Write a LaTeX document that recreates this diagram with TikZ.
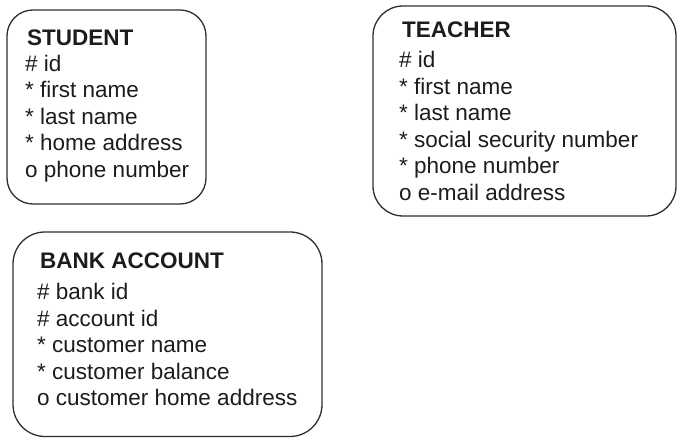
\documentclass[tikz,border=0pt]{standalone}
\usepackage{fontspec}
\setmainfont{Liberation Sans}
\definecolor{ink}{HTML}{1C1C1C}
\definecolor{rim}{HTML}{2E2E2E}
\tikzset{
  entity/.style={draw=rim,line width=1.3pt,rounded corners=#1},
  entity title/.style={anchor=base west,inner sep=0pt,text=ink,
    font=\fontsize{22.5}{26.5}\selectfont\bfseries},
  entity attrs/.style={anchor=base west,inner sep=0pt,align=left,text=ink,
    font=\fontsize{22.5}{26.5}\selectfont}
}
\begin{document}
\begin{tikzpicture}[x=1pt,y=-1pt,line cap=round,line join=round]
\useasboundingbox (0,0) rectangle (678,438);
\path
(7,10) coordinate (S1)
(206,204) coordinate (S2)
(373,6) coordinate (T1)
(676,216) coordinate (T2)
(13,232) coordinate (B1)
(322,436.5) coordinate (B2)
;
% the three entity boxes
\draw[entity=26] (S1) rectangle (S2);
\draw[entity=30] (T1) rectangle (T2);
\draw[entity=32] (B1) rectangle (B2);
% student (attribute lists sit on the baseline of their last line)
\node[entity title] (student) at (27,45.5) {STUDENT};
\node[entity attrs] (studentattrs) at (25,177.5)
  {\# id\\* first name\\* last name\\* home address\\o phone number};
% teacher
\node[entity title] (teacher) at (402,37.5) {TEACHER};
\node[entity attrs] (teacherattrs) at (399,200.5)
  {\# id\\* first name\\* last name\\* social security number\\* phone number\\o e-mail address};
% bank account
\node[entity title] (account) at (40,268.5) {BANK ACCOUNT};
\node[entity attrs] (accountattrs) at (37,406)
  {\# bank id\\\# account id\\* customer name\\* customer balance\\o customer home address};
\end{tikzpicture}
\end{document}
